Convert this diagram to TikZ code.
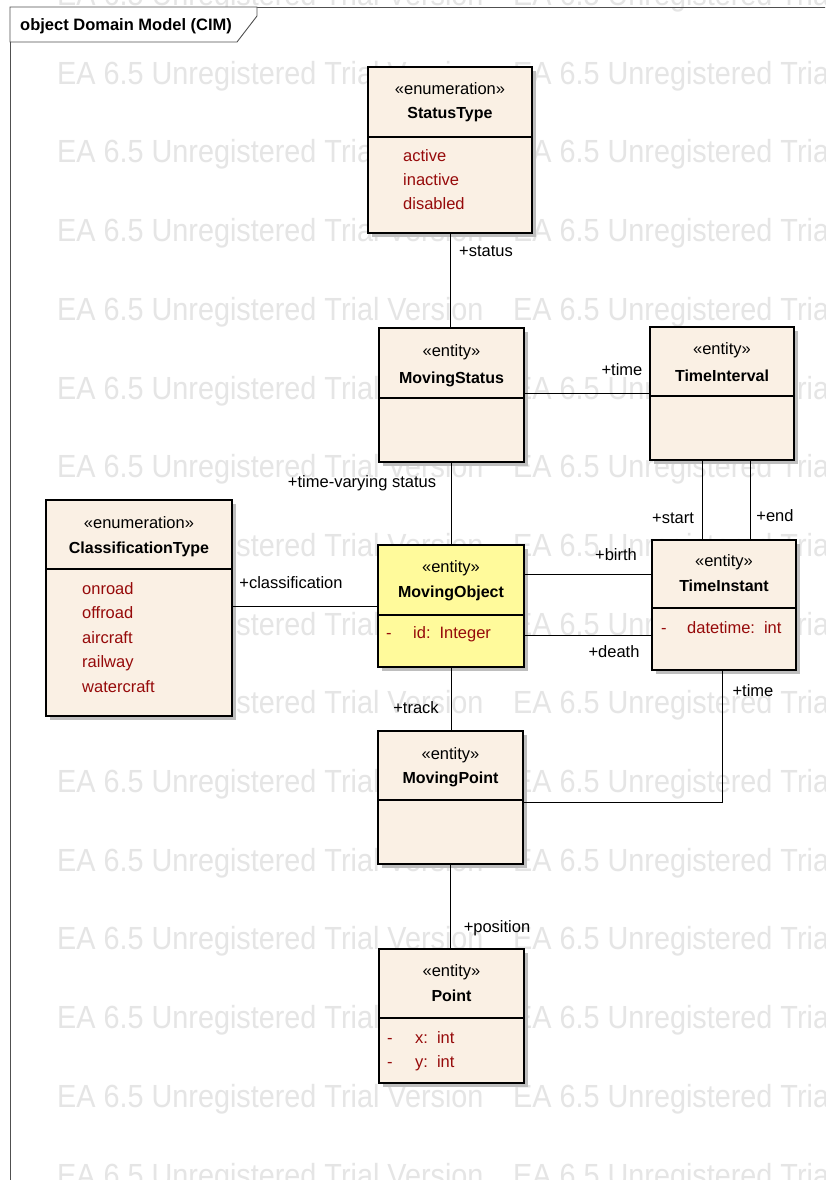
\documentclass[tikz,border=0pt]{standalone}
\usepackage{fontspec}
\setmainfont{Liberation Sans}
\usetikzlibrary{shadows}
\definecolor{classfill}{RGB}{250,240,228}
\definecolor{objfill}{RGB}{255,250,155}
\definecolor{attrred}{RGB}{150,10,10}
\definecolor{wmgray}{RGB}{229,229,229}
\definecolor{framegray}{RGB}{80,80,80}
\definecolor{shadowgray}{RGB}{190,190,190}

\begin{document}
\begin{tikzpicture}[x=1pt,y=-1pt,
  wm/.style={anchor=base west, inner sep=0pt, text=wmgray, font=\fontsize{32}{36}\selectfont},
  classbox/.style={draw=black, line width=1.2pt, fill=classfill, inner sep=0pt,
    drop shadow={shadow xshift=4pt, shadow yshift=-4pt, fill=shadowgray, opacity=1}},
  divider/.style={draw=black, line width=1.1pt},
  stereo/.style={anchor=base, inner sep=0pt, font=\fontsize{16.5}{19}\selectfont},
  cname/.style={anchor=base, inner sep=0pt, font=\bfseries\fontsize{16}{19}\selectfont},
  attr/.style={anchor=base west, inner sep=0pt, text=attrred, font=\fontsize{16.5}{19}\selectfont},
  role/.style={anchor=base, inner sep=0pt, font=\fontsize{16.5}{19}\selectfont},
  assoc/.style={draw=black, line width=1pt}]

\clip (0,0) rectangle (825,1180);
\fill[white] (0,0) rectangle (825,1180);

% background watermark rows
\foreach \k in {0,...,15} {
  \pgfmathsetmacro\wy{5.5+78.7*\k}
  \node[wm] (wmA\k) at (57,\wy) {\scalebox{0.9}[1]{EA 6.5 Unregistered Trial Version}};
  \node[wm] (wmB\k) at (513,\wy) {\scalebox{0.9}[1]{EA 6.5 Unregistered Trial Version}};
}

% diagram frame and name tab
\draw[framegray, line width=0.9pt] (10,1185) -- (10,7) -- (830,7);
\draw[framegray, line width=0.9pt, fill=white] (10,7) -- (257,7) -- (257,16) -- (237,42) -- (10,42) -- cycle;
\node[anchor=base west, inner sep=0pt, font=\bfseries\fontsize{16.5}{19}\selectfont] (title) at (20,31) {object Domain Model (CIM)};

% class boxes
\node[classbox, minimum width=164pt, minimum height=166pt] (st) at (450,150) {};
\node[classbox, minimum width=145pt, minimum height=134pt] (ms) at (451.5,395) {};
\node[classbox, minimum width=144pt, minimum height=133pt] (ti) at (722,393.5) {};
\node[classbox, minimum width=186pt, minimum height=216pt] (ct) at (139,608) {};
\node[classbox, fill=objfill, minimum width=146pt, minimum height=122pt] (mo) at (451,606) {};
\node[classbox, minimum width=144pt, minimum height=130pt] (tn) at (724,605) {};
\node[classbox, minimum width=145pt, minimum height=133pt] (mp) at (450.5,797.5) {};
\node[classbox, minimum width=145pt, minimum height=134pt] (pt) at (451.5,1016) {};

% compartment dividers
\draw[divider] (st.west |- 0,137) -- (st.east |- 0,137);
\draw[divider] (ms.west |- 0,398) -- (ms.east |- 0,398);
\draw[divider] (ti.west |- 0,396) -- (ti.east |- 0,396);
\draw[divider] (ct.west |- 0,569) -- (ct.east |- 0,569);
\draw[divider] (mo.west |- 0,615) -- (mo.east |- 0,615);
\draw[divider] (tn.west |- 0,608) -- (tn.east |- 0,608);
\draw[divider] (mp.west |- 0,800) -- (mp.east |- 0,800);
\draw[divider] (pt.west |- 0,1018) -- (pt.east |- 0,1018);

% StatusType
\node[stereo] (stS) at (450,95) {«enumeration»};
\node[cname] (stN) at (450,119) {StatusType};
\node[attr] (stA1) at (403,161) {active};
\node[attr] (stA2) at (403,185) {inactive};
\node[attr] (stA3) at (403,209) {disabled};

% MovingStatus
\node[stereo] (msS) at (451.5,356) {«entity»};
\node[cname] (msN) at (451.5,383) {MovingStatus};

% TimeInterval
\node[stereo] (tiS) at (722,354) {«entity»};
\node[cname] (tiN) at (722,381) {TimeInterval};

% ClassificationType
\node[stereo] (ctS) at (139,528) {«enumeration»};
\node[cname] (ctN) at (139,553) {ClassificationType};
\node[attr] (ctA1) at (82,594) {onroad};
\node[attr] (ctA2) at (82,618) {offroad};
\node[attr] (ctA3) at (82,643) {aircraft};
\node[attr] (ctA4) at (82,667) {railway};
\node[attr] (ctA5) at (82,692) {watercraft};

% MovingObject
\node[stereo] (moS) at (451,572) {«entity»};
\node[cname] (moN) at (451,597) {MovingObject};
\node[attr] (moV) at (386,638) {-};
\node[attr] (moA) at (413,638) {id:\hspace{9pt}Integer};

% TimeInstant
\node[stereo] (tnS) at (724,566) {«entity»};
\node[cname] (tnN) at (724,591) {TimeInstant};
\node[attr] (tnV) at (661,633) {-};
\node[attr] (tnA) at (687,633) {datetime:\hspace{9pt}int};

% MovingPoint
\node[stereo] (mpS) at (450.5,759) {«entity»};
\node[cname] (mpN) at (450.5,783) {MovingPoint};

% Point
\node[stereo] (ptS) at (451.5,976) {«entity»};
\node[cname] (ptN) at (451.5,1001) {Point};
\node[attr] (ptV1) at (387,1043) {-};
\node[attr] (ptA1) at (415,1043) {x:\hspace{9pt}int};
\node[attr] (ptV2) at (387,1067) {-};
\node[attr] (ptA2) at (415,1067) {y:\hspace{9pt}int};

% associations
\draw[assoc] (st.south) -- (st.south |- ms.north);
\draw[assoc] (ti.west) -- (ti.west -| ms.east);
\draw[assoc] (ms.south) -- (ms.south |- mo.north);
\draw[assoc] (mo.west) -- (mo.west -| ct.east);
\draw[assoc] ([xshift=53pt]ti.south west) coordinate (tiA) -- (tiA |- tn.north);
\draw[assoc] ([xshift=101pt]ti.south west) coordinate (tiB) -- (tiB |- tn.north);
\draw[assoc] ([yshift=-30pt]mo.north east) coordinate (moB) -- (moB -| tn.west);
\draw[assoc] ([yshift=32pt]mo.south east) coordinate (moD) -- (moD -| tn.west);
\draw[assoc] (mo.south) -- (mo.south |- mp.north);
\draw[assoc] ([yshift=-4.5pt]mp.east) -| ([xshift=71pt]tn.south west);
\draw[assoc] (mp.south) -- (mp.south |- pt.north);

% association end roles
\node[role] (rStatus) at (486,256) {+status};
\node[role] (rTime1) at (622,375) {+time};
\node[role] (rTvs) at (362,487) {+time-varying status};
\node[role] (rClass) at (291,588) {+classification};
\node[role] (rStart) at (673,523) {+start};
\node[role] (rEnd) at (775,521) {+end};
\node[role] (rBirth) at (616,560) {+birth};
\node[role] (rDeath) at (614,657) {+death};
\node[role] (rTime2) at (753,696) {+time};
\node[role] (rTrack) at (416,713) {+track};
\node[role] (rPos) at (497,932) {+position};
\end{tikzpicture}
\end{document}
